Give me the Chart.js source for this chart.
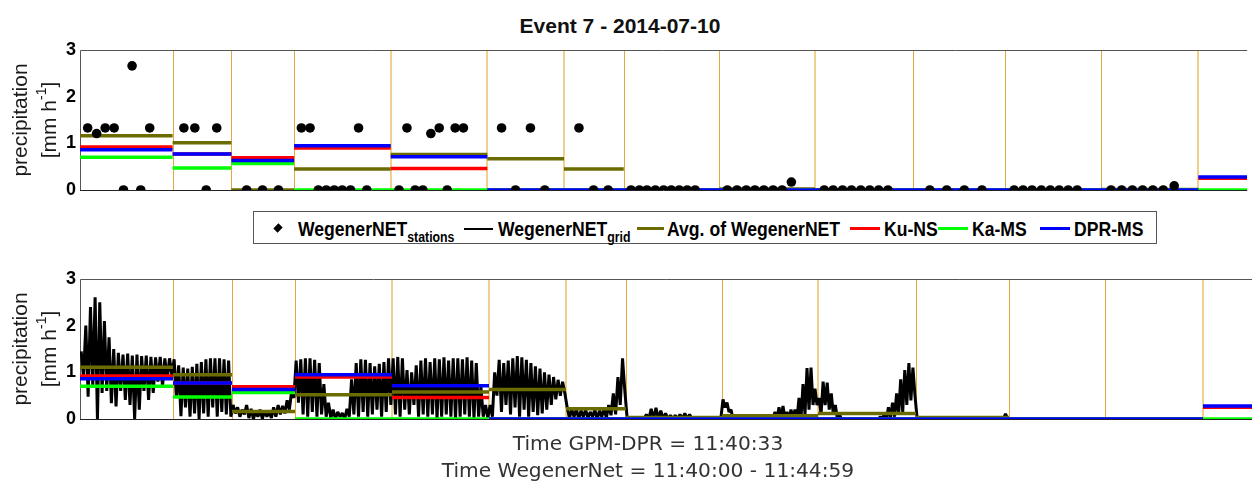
<!DOCTYPE html>
<html>
<head>
<meta charset="utf-8">
<script src="https://cdn.jsdelivr.net/npm/chart.js@4.4.1/dist/chart.umd.min.js"></script>
<style>
  html, body { margin: 0; padding: 0; background: #fff; }
  #wrap { position: relative; width: 1252px; height: 486px; overflow: hidden; font-family: "Liberation Sans", Arial, sans-serif; }
  canvas { position: absolute; left: 0; }
  #chartTop { top: 20px; }
  #chartBottom { top: 250px; }
  .title { position: absolute; left: 620px; top: 16px; transform: translateX(-50%); font-weight: bold; font-size: 21px; line-height: 20px; white-space: nowrap; color: #111; }
  .ylab { position: absolute; transform: translate(-50%, -50%) rotate(-90deg); font-size: 21px; line-height: 29px; text-align: center; white-space: nowrap; color: #1a1a1a; }
  .ylab sup { font-size: 14px; line-height: 0; position: relative; top: -2px; }
  #legendBox { position: absolute; left: 253px; top: 211px; width: 904px; height: 33px; border: 1px solid #555; box-sizing: border-box; background: #fff; }
  .lt { position: absolute; top: 219px; font-weight: bold; font-size: 20px; line-height: 20px; white-space: nowrap; color: #000; transform: scaleX(0.88); transform-origin: 0 50%; }
  .lt sub { font-size: 14px; vertical-align: baseline; position: relative; top: 6px; }
  .ls { position: absolute; height: 3px; top: 227px; }
  .marker { position: absolute; left: 275px; top: 225px; width: 6px; height: 6px; background: #000; transform: rotate(45deg) scaleY(1.2); }
  .foot { position: absolute; left: 648px; top: 430px; transform: translateX(-50%); font-family: "DejaVu Sans", sans-serif; font-size: 20.2px; line-height: 27px; text-align: center; white-space: nowrap; color: #333; }
</style>
</head>
<body>
<div id="wrap">
  <div class="title">Event 7 - 2014-07-10</div>
  <canvas id="chartTop" width="1252" height="190"></canvas>
  <canvas id="chartBottom" width="1252" height="190"></canvas>
  <div class="ylab" style="left:34px; top:120px;">precipitation<br>[mm h<sup>-1</sup>]</div>
  <div class="ylab" style="left:34px; top:349px;">precipitation<br>[mm h<sup>-1</sup>]</div>

  <div id="legendBox"></div>
  <div class="marker"></div>
  <div class="lt" style="left:298px;">WegenerNET<sub>stations</sub></div>
  <div class="ls" style="left:464px; width:29px; height:1.5px; top:228px; background:#000;"></div>
  <div class="lt" style="left:498px;">WegenerNET<sub>grid</sub></div>
  <div class="ls" style="left:637px; width:27px; background:#6b6b00;"></div>
  <div class="lt" style="left:667px;">Avg. of WegenerNET</div>
  <div class="ls" style="left:850px; width:30px; background:#ff0000;"></div>
  <div class="lt" style="left:884px;">Ku-NS</div>
  <div class="ls" style="left:938px; width:30px; background:#00ff00;"></div>
  <div class="lt" style="left:972px;">Ka-MS</div>
  <div class="ls" style="left:1040px; width:30px; background:#0000ff;"></div>
  <div class="lt" style="left:1074px;">DPR-MS</div>

  <div class="foot">Time GPM-DPR = 11:40:33<br>Time WegenerNet = 11:40:00 - 11:44:59</div>
</div>

<script>
// Footprint boundaries along the track (grid-point index)
const cellEdges = [0, 93, 152, 215, 312, 409, 486, 546, 642, 738, 836, 929, 1025, 1123, 1172];

// WegenerNET station rain rates, placed inside their footprint
const stationX = [
  7.7, 16.7, 25.3, 34.3, 43.7, 52.3, 61, 70,
  104.3, 115.3, 126.7, 137.3,
  167.3, 183.3, 199.3,
  222.3, 231, 239.3, 247.3, 255.3, 263.3, 271.7, 279.7, 288,
  320.3, 328.3, 336.5, 344.3, 352.3, 360.7, 368.7, 376.7, 385,
  423.3, 437.3, 452.3, 466.7,
  501, 515.7, 530.3,
  553.3, 561.7, 569.3, 577.7, 586, 593.7, 601.7, 609.7, 617.7,
  650, 659.7, 669, 677.7, 686.7, 696, 705, 714.3,
  747.3, 756.3, 765.7, 774.7, 784, 793, 802, 811.3,
  853.3, 870.3, 888, 905.7,
  938, 947, 956, 965.3, 974.3, 983.3, 992.3, 1001.3,
  1035.3, 1046, 1056.7, 1067, 1077.3, 1087.7, 1098.7
];
const stationValue = [
  1.33, 1.21, 1.33, 1.33, 0, 2.66, 0, 1.33,
  1.33, 1.33, 0, 1.33,
  0, 0, 0,
  1.33, 1.33, 0, 0, 0, 0, 0, 1.33, 0,
  0, 1.33, 0, 0, 1.21, 1.33, 0, 1.33, 1.33,
  1.33, 0, 1.33, 0,
  1.33, 0, 0,
  0, 0, 0, 0, 0, 0, 0, 0, 0,
  0, 0, 0, 0, 0, 0, 0, 0.17,
  0, 0, 0, 0, 0, 0, 0, 0,
  0, 0, 0, 0,
  0, 0, 0, 0, 0, 0, 0, 0,
  0, 0, 0, 0, 0, 0, 0.09
];

// Footprint means (one value per footprint, null = no data)
const avgStations = [1.16, 1.01, 0.00, 0.45, 0.76, 0.67, 0.45, 0.00, 0.02, 0.00, 0.00, 0.00, 0.01, null];
const avgGrid     = [1.11, 0.95, 0.16, 0.52, 0.58, 0.63, 0.22, 0.03, 0.07, 0.12, 0.03, 0.00, 0.00, null];
const kuNS        = [0.92, 0.77, 0.69, 0.90, 0.46, 0, 0, 0, 0, 0, 0, 0, 0, 0.25];
const kaMS        = [0.70, 0.47, 0.57, 0, 0, 0, 0, 0, 0, 0, 0, 0, 0, 0];
const dprMS       = [0.86, 0.77, 0.63, 0.95, 0.71, 0, 0, 0, 0, 0, 0, 0, 0, 0.28];

// WegenerNET grid values along the track: crest and trough of each row, per footprint
const gridPeaks = [
  [1.45, 2.0, 2.4, 2.61, 2.5, 2.1, 1.75, 1.5, 1.42, 1.38, 1.4, 1.36, 1.38, 1.35, 1.36, 1.33, 1.32, 1.33, 1.3, 1.3],
  [1.28, 1.15, 1.1, 1.08, 1.12, 1.18, 1.22, 1.28, 1.3, 1.3, 1.3, 1.28, 1.25],
  [0.3, 0.25, 0.2, 0.3, 0.22, 0.15, 0.2, 0.18, 0.15, 0.25, 0.3, 0.28, 0.4, 0.6],
  [1.25, 1.28, 1.3, 1.3, 1.27, 1.2, 0.75, 0.35, 0.2, 0.15, 0.13, 0.22, 0.85, 1.2, 1.28, 1.27, 1.2, 1.13, 1.18, 1.22, 1.3],
  [1.3, 1.33, 1.3, 1.05, 1.0, 1.15, 1.25, 1.3, 1.22, 1.3, 1.28, 1.32, 1.25, 1.3, 1.3, 1.28, 1.32, 1.25, 1.2, 0.7, 0.3],
  [0.3, 1.0, 1.27, 1.2, 1.25, 1.3, 1.35, 1.32, 1.27, 1.2, 1.13, 1.08, 1.0, 0.95, 0.9, 0.84, 0.8],
  [0.25, 0.2, 0.22, 0.18, 0.2, 0.15, 0.2, 0.18, 0.22, 0.3, 0.55, 0.9, 1.3],
  [0, 0, 0, 0, 0.1, 0.22, 0.24, 0.18, 0.12, 0.08, 0.08, 0.1, 0.12, 0.1, 0, 0, 0, 0, 0, 0],
  [0.42, 0.35, 0.2, 0, 0, 0, 0, 0, 0, 0, 0, 0, 0.05, 0.15, 0.25, 0.28, 0.15, 0.2, 0.2, 0.45, 0.75, 1.09, 1.1, 0.65],
  [0.45, 0.8, 0.78, 0.55, 0.3, 0.1, 0, 0, 0, 0, 0, 0, 0, 0, 0, 0.05, 0.12, 0.25, 0.35, 0.55, 0.85, 1.05, 1.2, 1.1],
  [0, 0, 0, 0, 0, 0, 0, 0, 0, 0, 0, 0, 0, 0, 0, 0, 0, 0, 0, 0.11],
  [0],
  [0]
];
const gridTroughs = [
  [0.9, 0.48, 0.7, 0.0, 0.56, 0.6, 0.34, 0.27, 0.6, 0.41, 0.3, 0.0, 0.2, 0.6, 0.41, 0.56, 0.8, 0.7, 0.84, 0.95],
  [0.45, 0.06, 0.25, 0.05, 0.12, 0.0, 0.12, 0.05, 0.25, 0.05, 0.15, 0.1, 0.05],
  [0.12, 0.05, 0.1, 0.02, 0.0, 0.05, 0.0, 0.05, 0.02, 0.05, 0.1, 0.12, 0.2, 0.45],
  [0.35, 0.1, 0.05, 0.15, 0.05, 0.1, 0.05, 0.02, 0.0, 0.05, 0.0, 0.05, 0.1, 0.05, 0.15, 0.05, 0.1, 0.2, 0.05, 0.15, 0.3],
  [0.1, 0.05, 0.2, 0.1, 0.3, 0.05, 0.1, 0.05, 0.1, 0.0, 0.05, 0.1, 0.05, 0.0, 0.05, 0.1, 0.05, 0.0, 0.05, 0.05, 0.02],
  [0.05, 0.5, 0.15, 0.3, 0.1, 0.25, 0.05, 0.2, 0.05, 0.15, 0.08, 0.12, 0.2, 0.3, 0.42, 0.5, 0.55],
  [0.02, 0.05, 0.0, 0.05, 0.02, 0.05, 0.0, 0.05, 0.02, 0.08, 0.1, 0.3, 0.6],
  [0, 0, 0, 0, 0, 0, 0, 0, 0, 0, 0, 0, 0, 0, 0, 0, 0, 0, 0, 0],
  [0.25, 0.15, 0, 0, 0, 0, 0, 0, 0, 0, 0, 0, 0, 0, 0, 0, 0, 0, 0, 0, 0.1, 0.2, 0.3, 0.3],
  [0.1, 0.3, 0.2, 0.1, 0, 0, 0, 0, 0, 0, 0, 0, 0, 0, 0, 0, 0, 0.02, 0.05, 0.1, 0.15, 0.3, 0.4, 0.5],
  [0, 0, 0, 0, 0, 0, 0, 0, 0, 0, 0, 0, 0, 0, 0, 0, 0, 0, 0, 0],
  [0],
  [0]
];

const yTicks = [0, 1, 2, 3];

const COLORS = { avg: '#6b6b00', ku: '#ff0000', ka: '#00ff00', dpr: '#0000ff', grid: '#000000' };
const softEdgeIdx = [4, 5, 6, 9, 13];

// one flat segment per footprint, broken by gaps between footprints
function footprintSegments(values) {
  const pts = [];
  values.forEach((v, i) => {
    if (v === null || v === undefined) return;
    pts.push({ x: cellEdges[i], y: v }, { x: cellEdges[i + 1], y: v }, { x: cellEdges[i + 1], y: null });
  });
  return pts;
}

// zig-zag trace of the grid values: crest then trough for every row of each footprint
function gridTrace() {
  const pts = [];
  gridPeaks.forEach((peaks, c) => {
    const e0 = cellEdges[c], w = cellEdges[c + 1] - e0, n = peaks.length;
    peaks.forEach((p, k) => {
      pts.push({ x: e0 + (k + 0.25) * w / n, y: p });
      pts.push({ x: e0 + (k + 0.75) * w / n, y: gridTroughs[c][k] });
    });
  });
  return pts;
}

const framePlugin = {
  id: 'frame',
  beforeDatasetsDraw(chart) {
    const { ctx, chartArea: a, scales: { x } } = chart;
    ctx.save();
    cellEdges.forEach((e, i) => {
      if (i === 0 || i === cellEdges.length - 1) return;
      const soft = softEdgeIdx.includes(i);
      const px = Math.round(x.getPixelForValue(e)) + (soft ? 0 : 0.5);
      ctx.strokeStyle = soft ? 'rgba(238,200,120,0.85)' : '#e5a83c';
      ctx.lineWidth = soft ? 2 : 1;
      ctx.beginPath();
      ctx.moveTo(px, a.top);
      ctx.lineTo(px, a.bottom);
      ctx.stroke();
    });
    ctx.lineWidth = 1;
    ctx.strokeStyle = '#555';
    ctx.beginPath();
    ctx.moveTo(a.left + 0.5, a.bottom);
    ctx.lineTo(a.left + 0.5, a.top + 0.5);
    ctx.lineTo(a.right, a.top + 0.5);
    ctx.stroke();
    ctx.strokeStyle = '#222';
    ctx.beginPath();
    ctx.moveTo(a.left, a.bottom + 0.5);
    ctx.lineTo(a.right, a.bottom + 0.5);
    ctx.stroke();
    ctx.restore();
  }
};

function segDataset(values, color) {
  return {
    data: footprintSegments(values),
    borderColor: color,
    borderWidth: 3.5,
    pointRadius: 0,
    spanGaps: false,
    tension: 0,
    borderCapStyle: 'butt'
  };
}

function baseOptions(padTop, padBottom) {
  return {
    responsive: false,
    animation: false,
    devicePixelRatio: 1,
    layout: { padding: { top: padTop, bottom: padBottom, left: 0, right: 0 } },
    plugins: { legend: { display: false }, tooltip: { enabled: false }, title: { display: false } },
    scales: {
      x: { type: 'linear', min: cellEdges[0], max: cellEdges[cellEdges.length - 1], display: false },
      y: {
        type: 'linear', min: yTicks[0], max: yTicks[yTicks.length - 1],
        afterBuildTicks: s => { s.ticks = yTicks.map(v => ({ value: v })); },
        afterFit: s => { s.width = 80; },
        grid: { display: false, drawTicks: false },
        border: { display: false },
        ticks: { padding: 4, color: '#000', font: { family: 'Liberation Sans', weight: 'bold', size: 18 } }
      }
    }
  };
}

// upper panel: station values and footprint means
new Chart(document.getElementById('chartTop'), {
  type: 'line',
  data: {
    datasets: [
      {
        data: stationX.map((x, i) => ({ x, y: stationValue[i] })),
        showLine: false,
        pointRadius: 4.8,
        pointBackgroundColor: '#000',
        pointBorderColor: '#000',
        pointBorderWidth: 0
      },
      segDataset(dprMS, COLORS.dpr),
      segDataset(kaMS, COLORS.ka),
      segDataset(kuNS, COLORS.ku),
      segDataset(avgStations, COLORS.avg)
    ]
  },
  options: baseOptions(30, 20),
  plugins: [framePlugin]
});

// lower panel: grid trace and footprint means
new Chart(document.getElementById('chartBottom'), {
  type: 'line',
  data: {
    datasets: [
      segDataset(dprMS, COLORS.dpr),
      segDataset(kaMS, COLORS.ka),
      segDataset(kuNS, COLORS.ku),
      segDataset(avgGrid, COLORS.avg),
      {
        data: gridTrace(),
        borderColor: COLORS.grid,
        borderWidth: 3,
        pointRadius: 0,
        tension: 0,
        borderJoinStyle: 'bevel'
      }
    ]
  },
  options: baseOptions(29, 21),
  plugins: [framePlugin]
});
</script>
</body>
</html>
